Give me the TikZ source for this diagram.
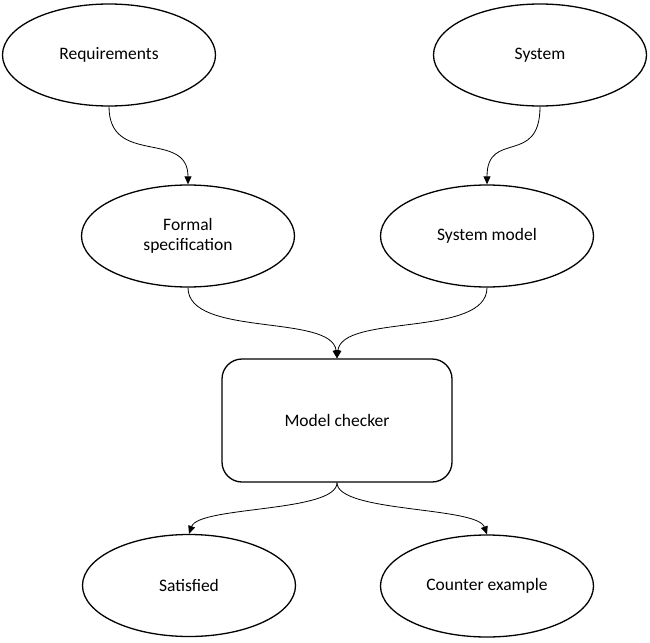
\documentclass[tikz,border=0pt]{standalone}
\usepackage{fontspec}
\setmainfont{Carlito}
\usetikzlibrary{shapes.geometric,arrows.meta}
\begin{document}
\begin{tikzpicture}[x=1pt,y=-1pt,
  oval/.style={draw,line width=1.3pt,ellipse,minimum width=213pt,minimum height=102pt,inner sep=0pt,font=\fontsize{17.5}{20}\selectfont,align=center},
  box/.style={draw,line width=1.3pt,rounded corners=20pt,minimum width=230pt,minimum height=123pt,inner sep=0pt,font=\fontsize{17.5}{20}\selectfont},
  link/.style={line width=0.8pt,-{Triangle[width=7pt,length=8pt]}}]
\useasboundingbox (0,0) rectangle (650,642);
\node[oval] (req) at (109,55) {Requirements};
\node[oval] (sys) at (540,55) {System};
\node[oval] (fs) at (188,236) {Formal\\specification};
\node[oval] (sm) at (487,236) {System model};
\node[box] (mc) at (337,420.5) {Model checker};
\node[oval] (sat) at (189,585.5) {Satisfied};
\node[oval] (ce) at (487,586) {Counter example};
\draw[link] (req.south) .. controls +(0,60) and +(0,-55) .. (fs.north);
\draw[link] (sys.south) .. controls +(0,60) and +(0,-55) .. (sm.north);
\draw[link] (fs.south) .. controls +(0,50) and +(-5,-45) .. (mc.north);
\draw[link] (sm.south) .. controls +(0,50) and +(5,-45) .. (mc.north);
\draw[link] (mc.south) .. controls +(0,30) and +(10,-28) .. (sat.north);
\draw[link] (mc.south) .. controls +(0,30) and +(-10,-28) .. (ce.north);
\end{tikzpicture}
\end{document}
